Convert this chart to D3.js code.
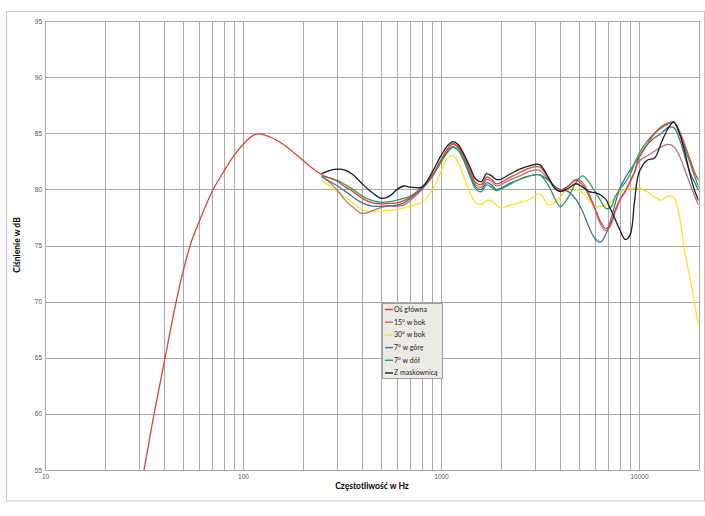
<!DOCTYPE html>
<html>
<head>
<meta charset="utf-8">
<script src="https://cdn.jsdelivr.net/npm/d3@7"></script>
<style>
  body { margin: 0; background: #fff; }
  svg { display: block; font-family: Lato, "Open Sans", sans-serif; }
  .grid line { stroke: #a8a8a8; stroke-width: 1; shape-rendering: crispEdges; }
  .tick-lbl text { fill: #555; font-size: 6.5px; }
  .tick-lbl .domain, .tick-lbl line { display: none; }
  .series { fill: none; stroke-width: 1.3; }
</style>
</head>
<body>
<svg width="705" height="516"></svg>
<script>
// low end of the main axis curve (Hz / dB)
const freqLow = [30, 32, 35, 40, 45, 50, 55, 60, 70, 80, 90, 100, 110, 120, 140, 160, 190, 220];
const mainLow = [52.8, 55.5, 59.35, 64.6, 69.2, 72.8, 75.4, 77.1, 79.85, 81.6, 83.0, 84.0, 84.7, 84.95, 84.6, 84.0, 82.95, 82.0];

// shared frequency grid for the measured range
const freq = [250, 275, 300, 330, 360, 400, 450, 500, 550, 600, 650, 700, 800, 900, 1000,
  1080, 1150, 1220, 1300, 1400, 1500, 1600, 1700, 1800, 1900, 2000,
  2200, 2500, 2800, 3150, 3500, 3800, 4000, 4400, 4800, 5200, 5600, 6000, 6400, 6800, 7200, 7600, 8000, 8500, 9000, 9500,
  10000, 11000, 12000, 13000, 14000, 15000, 16000, 17000, 18000, 19000, 20000];

const mainAxis = [81.3, 81.0, 80.7, 80.2, 79.8, 79.2, 78.8, 78.7, 78.75, 78.8, 79.0, 79.3, 80.1, 81.2, 82.6,
  83.6, 84.1, 83.8, 83.0, 81.7, 80.6, 80.45, 81.1, 80.9, 80.5, 80.6,
  81.0, 81.5, 81.9, 82.0, 81.0, 80.0, 79.9, 80.3, 80.8, 80.4, 79.4, 78.3, 77.1, 76.5, 77.0, 78.2, 79.1, 79.8, 80.7, 81.6,
  82.8, 84.0, 85.0, 85.6, 85.9, 86.0, 85.2, 84.0, 82.8, 81.6, 80.8];
const side15 = [81.2, 80.6, 79.9, 79.0, 78.4, 77.85, 78.1, 78.4, 78.5, 78.5, 78.6, 79.0, 80.0, 81.2, 82.6,
  83.6, 84.0, 83.7, 82.9, 81.5, 80.4, 80.2, 80.9, 80.7, 80.3, 80.4,
  80.8, 81.2, 81.6, 81.7, 80.8, 80.0, 79.9, 80.3, 80.9, 80.6, 79.6, 78.2, 76.9, 76.3, 76.8, 78.0, 79.0, 79.8, 80.6, 81.5,
  82.5, 83.0, 83.4, 83.8, 84.0, 83.8, 83.0, 81.8, 80.6, 79.5, 78.6];
const side30 = [80.8, 80.3, 79.8, 79.3, 78.8, 78.2, 78.0, 78.1, 78.15, 78.2, 78.35, 78.5, 78.85, 79.9, 81.6,
  82.8, 83.0, 82.4, 81.2, 79.7, 78.8, 78.65, 79.0, 79.0, 78.6, 78.4,
  78.55, 78.85, 79.1, 79.6, 78.6, 78.9, 79.3, 80.1, 80.0, 79.7, 79.0, 78.45, 78.5, 78.6, 78.9, 79.3, 79.7, 80.0, 80.1, 80.1,
  80.1, 79.8, 79.3, 79.05, 79.4, 79.3, 77.6, 74.5, 72.3, 70.0, 67.8];
const up7 = [81.1, 80.7, 80.3, 79.8, 79.3, 78.8, 78.5, 78.5, 78.55, 78.6, 78.8, 79.2, 80.0, 81.1, 82.5,
  83.4, 83.8, 83.5, 82.7, 81.3, 80.2, 80.0, 80.6, 80.4, 80.0, 80.1,
  80.5, 80.9, 81.2, 81.3, 80.8, 80.2, 80.0, 79.8, 79.1, 78.0, 76.6, 75.6, 75.3, 76.0, 77.3, 78.8, 80.1, 81.0, 81.7, 82.3,
  82.9, 84.0, 84.6, 85.0, 85.5, 85.5, 84.5, 83.0, 81.6, 80.7, 79.9];
const down7 = [81.2, 81.0, 80.8, 80.4, 80.0, 79.4, 79.0, 78.85, 78.9, 79.05, 79.2, 79.4, 80.2, 81.2, 82.4,
  83.3, 83.75, 83.5, 82.6, 81.2, 80.0, 79.8, 80.4, 80.2, 79.9, 80.0,
  80.4, 80.9, 81.2, 81.3, 80.3, 79.0, 78.45, 79.3, 80.6, 81.2, 80.6, 79.8, 79.0, 78.3, 78.4, 79.4, 80.0, 80.6, 81.3, 82.3,
  83.2, 84.3, 85.0, 85.5, 85.8, 86.0, 85.0, 83.7, 82.5, 81.3, 80.2];
const grille = [81.4, 81.7, 81.8, 81.7, 81.3, 80.5, 79.7, 79.2, 79.4, 80.0, 80.3, 80.2, 80.2, 81.5, 83.0,
  83.9, 84.25, 84.0, 83.2, 82.0, 80.9, 80.7, 81.4, 81.2, 80.9, 80.9,
  81.3, 81.8, 82.1, 82.2, 81.0, 80.0, 79.8, 80.1, 80.5, 80.2, 79.8, 79.7, 79.5, 79.1, 78.2, 77.3, 76.4, 75.55, 75.9, 79.0,
  81.5, 82.6, 82.8, 84.2, 85.4, 86.0, 85.0, 83.4, 81.5, 80.0, 79.0];

const seriesNames = ["Oś główna", "15° w bok", "30° w bok", "7° w górę", "7° w dół", "Z maskownicą"];
const seriesColors = ["#d8443a", "#b5727a", "#f0e62c", "#3d7395", "#2f9a5c", "#1c1c1c"];

const xTicks = [10, 100, 1000, 10000];
const yTicks = [55, 60, 65, 70, 75, 80, 85, 90, 95];

const svg = d3.select("svg");

// outer frame
svg.append("rect")
  .attr("x", 6.5).attr("y", 11.5)
  .attr("width", 698).attr("height", 489.5)
  .attr("fill", "none").attr("stroke", "#c6c6c6");

const x = d3.scaleLog().domain([10, 20000]).range([45, 698.6]);
const y = d3.scaleLinear().domain([55, 95]).range([470, 21]);

svg.append("defs").append("clipPath")
  .attr("id", "plot")
  .append("rect")
  .attr("x", 45).attr("y", 21)
  .attr("width", 698.6 - 45).attr("height", 470 - 21);

// grid
const grid = svg.append("g").attr("class", "grid");
grid.selectAll(".v").data(x.ticks())
  .join("line")
  .attr("x1", d => Math.round(x(d)) + 0.5).attr("x2", d => Math.round(x(d)) + 0.5)
  .attr("y1", 21).attr("y2", 470);
grid.selectAll(".h").data(yTicks)
  .join("line")
  .attr("x1", 45).attr("x2", 698.6)
  .attr("y1", d => Math.round(y(d)) + 0.5).attr("y2", d => Math.round(y(d)) + 0.5);

// tick labels
svg.append("g").attr("class", "tick-lbl")
  .attr("transform", "translate(42,0)")
  .call(d3.axisLeft(y).tickValues(yTicks).tickSize(0).tickPadding(0).tickFormat(d3.format("d")));
svg.append("g").attr("class", "tick-lbl")
  .attr("transform", "translate(0,474)")
  .call(d3.axisBottom(x).tickValues(xTicks).tickSize(0).tickPadding(0).tickFormat(d3.format("d")));

// axis titles
svg.append("text")
  .attr("x", 372).attr("y", 489)
  .attr("text-anchor", "middle")
  .attr("font-size", 8.5).attr("font-weight", "bold")
  .text("Częstotliwość w Hz");
svg.append("text")
  .attr("transform", "translate(20,245) rotate(-90)")
  .attr("text-anchor", "middle")
  .attr("font-size", 8.5).attr("font-weight", "bold")
  .text("Ciśnienie w dB");

// curves
const line = d3.line()
  .x(d => x(d[0]))
  .y(d => y(d[1]))
  .curve(d3.curveCatmullRom.alpha(0.5));

const mainPts = freqLow.map((f, i) => [f, mainLow[i]])
  .concat(freq.map((f, i) => [f, mainAxis[i]]));
const allSeries = [mainPts].concat([side15, side30, up7, down7, grille]
  .map(vals => freq.map((f, i) => [f, vals[i]])));

const plot = svg.append("g").attr("clip-path", "url(#plot)");
// draw order: yellow under the rest, black last
const order = [2, 1, 3, 4, 0, 5];
plot.selectAll("path")
  .data(order)
  .join("path")
  .attr("class", "series")
  .attr("stroke", i => seriesColors[i])
  .attr("d", i => line(allSeries[i]));

// legend
const legend = svg.append("g").attr("transform", "translate(382,303)");
legend.append("rect")
  .attr("x", 0.5).attr("y", 0.5)
  .attr("width", 60).attr("height", 75)
  .attr("fill", "#eceae4").attr("stroke", "#8a8a8a").attr("stroke-width", 0.8);
const item = legend.selectAll(".item")
  .data(seriesNames)
  .join("g")
  .attr("transform", (d, i) => "translate(0," + (6.5 + i * 12.7) + ")");
item.append("line")
  .attr("x1", 3).attr("x2", 11)
  .attr("stroke", (d, i) => seriesColors[i]).attr("stroke-width", 1.4);
item.append("text")
  .attr("x", 12).attr("dy", "0.35em")
  .attr("font-size", 7).attr("fill", "#222")
  .text(d => d);
</script>
</body>
</html>
